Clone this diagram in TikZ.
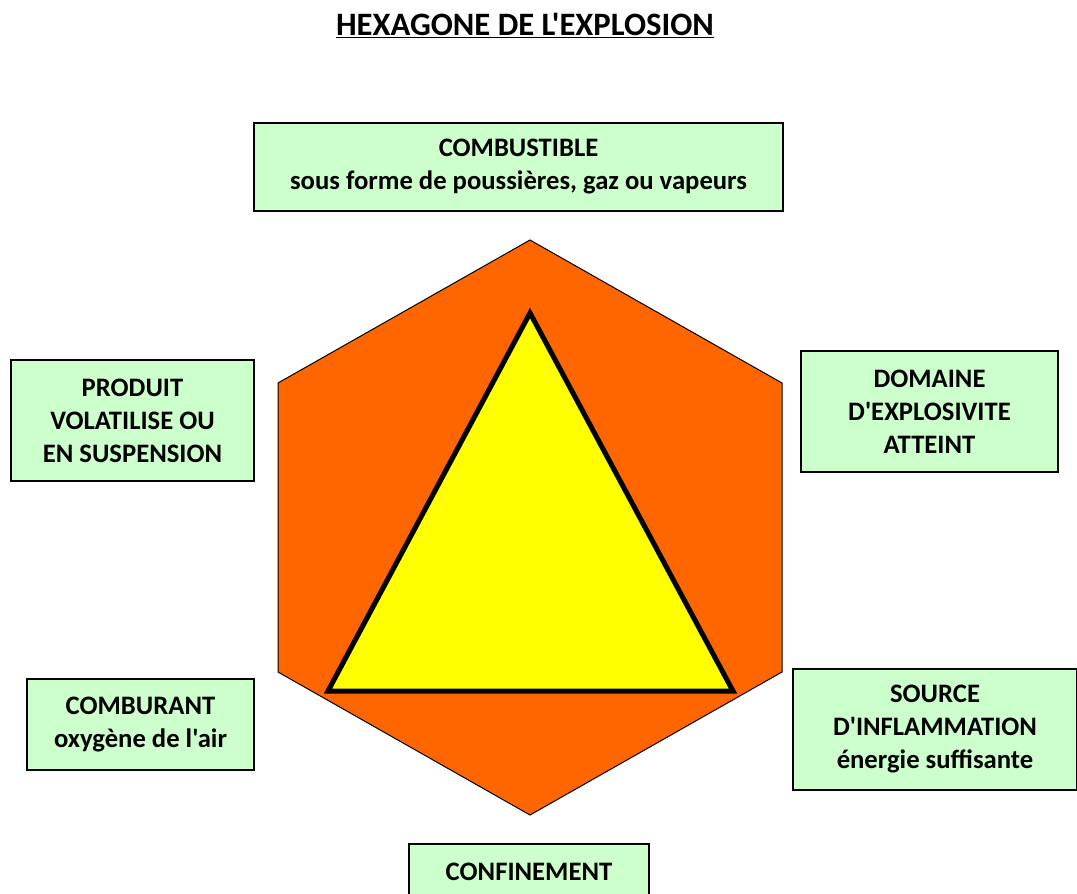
\documentclass[tikz,border=0pt]{standalone}
\usepackage{fontspec}
\setmainfont{Carlito}[Ligatures=TeXOff]
\definecolor{vertclair}{HTML}{CCFFCC}
\definecolor{hexorange}{HTML}{FF6600}
\definecolor{jaune}{HTML}{FFFF00}
\tikzset{
	boite/.style={draw=black, line width=1.1pt, fill=vertclair, inner sep=0pt, align=center,
		font=\fontsize{20}{24.75}\selectfont\bfseries},
}
\begin{document}
\begin{tikzpicture}[x=0.75pt,y=-0.75pt]
		\def\u{0.75pt}%un pixel
		\useasboundingbox (0,0) rectangle (1077,893);
		\node[anchor=base, font=\fontsize{24.5}{30}\selectfont\bfseries] (titre) at (525,35) {\underline{HEXAGONE DE L'EXPLOSION}};
		% hexagone
		\draw[fill=hexorange, line width=0.75pt] (530,240) coordinate (h1) -- (782,383) coordinate (h2)
			-- (782,672) coordinate (h3) -- (530,815) coordinate (h4) -- (278,672) coordinate (h5)
			-- (278,383) coordinate (h6) -- cycle;
		% triangle
		\draw[fill=jaune, line width=3.75pt] (530,313) coordinate (t1) -- (733,691) coordinate (t2)
			-- (328,691) coordinate (t3) -- cycle;
		% les six conditions
		\node[boite, minimum width=529*\u, minimum height=88*\u] (combustible) at (518.5,167)
			{COMBUSTIBLE\\sous forme de poussières, gaz ou vapeurs};
		\node[boite, minimum width=257*\u, minimum height=121*\u] (domaine) at (929.5,411.5)
			{DOMAINE\\D'EXPLOSIVITE\\ATTEINT};
		\node[boite, minimum width=284*\u, minimum height=121*\u] (source) at (935,729.5)
			{SOURCE\\D'INFLAMMATION\\énergie suffisante};
		\node[boite, minimum width=240*\u, minimum height=56*\u] (confinement) at (529,872)
			{CONFINEMENT};
		\node[boite, minimum width=227*\u, minimum height=91*\u] (comburant) at (140.5,724.5)
			{COMBURANT\\oxygène de l'air};
		\node[boite, minimum width=243*\u, minimum height=121*\u] (produit) at (132.5,420.5)
			{PRODUIT\\VOLATILISE OU\\EN SUSPENSION};
\end{tikzpicture}
\end{document}
